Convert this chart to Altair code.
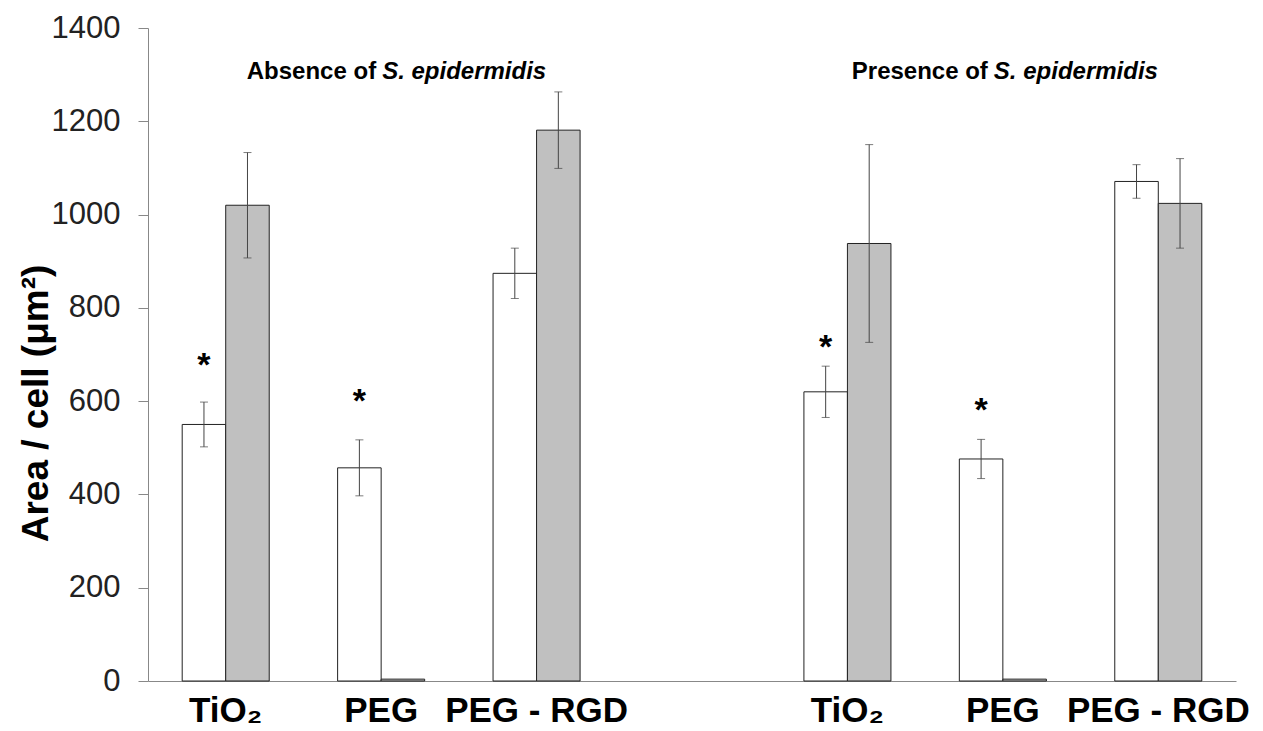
import altair as alt
import pandas as pd

# ---- data ----
slots = ["TiO₂", "PEG", "PEG - RGD", " ", "TiO₂ ", "PEG ", "PEG - RGD "]
bar_slots = ["TiO₂", "PEG", "PEG - RGD", "TiO₂ ", "PEG ", "PEG - RGD "]
white_vals = [550, 457, 874, 620, 476, 1071]
white_err = [48, 60, 54, 55, 42, 36]
grey_vals = [1020, 4, 1181, 938, 4, 1024]
grey_err = [113, 0, 82, 212, 0, 96]
star_slots = ["TiO₂", "PEG", "TiO₂ ", "PEG "]
star_vals = [694, 617, 733, 598]
y_ticks = [0, 200, 400, 600, 800, 1000, 1200, 1400]

rows = []
for s, v, e in zip(bar_slots, white_vals, white_err):
    rows.append({"slot": s, "series": "A", "value": v, "lo": v - e, "hi": v + e, "err": e})
for s, v, e in zip(bar_slots, grey_vals, grey_err):
    rows.append({"slot": s, "series": "B", "value": v, "lo": v - e, "hi": v + e, "err": e})
df = pd.DataFrame(rows)
err_df = df[df["err"] > 0]
stars = pd.DataFrame({"slot": star_slots, "series": ["A"] * 4, "y": star_vals, "t": ["*"] * 4})

FONT = "Liberation Sans"

xscale = alt.Scale(domain=slots, paddingInner=0.44, paddingOuter=0.22)
yscale = alt.Scale(domain=[0, 1400])
offs = alt.Scale(domain=["A", "B"])

X = alt.X("slot:N", scale=xscale, sort=slots,
          axis=alt.Axis(title=None, labelAngle=0, labelFont=FONT, labelFontSize=35,
                        labelFontWeight="bold", labelColor="#000", ticks=False,
                        labelPadding=12, domainColor="#888", labelLimit=400,
                        labelOverlap=False, labelBound=False))
Y = alt.Y("value:Q", scale=yscale,
          axis=alt.Axis(title="Area / cell (μm²)", values=y_ticks, format="d",
                        grid=False, labelFont=FONT, labelFontSize=31, labelColor="#222",
                        labelPadding=18, tickSize=10, tickColor="#888", domainColor="#888",
                        titleFont=FONT, titleFontSize=37, titleFontWeight="bold",
                        titleColor="#000", titleAngle=-90, titleX=-101, titleY=375,
                        titleAlign="center", titleBaseline="alphabetic"))
XO = alt.XOffset("series:N", scale=offs)

bars = alt.Chart(df).mark_bar(stroke="#222", strokeWidth=1).encode(
    x=X, xOffset=XO, y=Y,
    fill=alt.Fill("series:N", scale=alt.Scale(domain=["A", "B"], range=["#ffffff", "#c0c0c0"]),
                  legend=None),
)

rules = alt.Chart(err_df).mark_rule(color="#444", strokeWidth=1).encode(
    x=alt.X("slot:N", scale=xscale, sort=slots), xOffset=XO,
    y=alt.Y("lo:Q", scale=yscale), y2="hi:Q")
caps_hi = alt.Chart(err_df).mark_tick(color="#444", thickness=1, size=8, orient="horizontal").encode(
    x=alt.X("slot:N", scale=xscale, sort=slots), xOffset=XO, y=alt.Y("hi:Q", scale=yscale))
caps_lo = alt.Chart(err_df).mark_tick(color="#444", thickness=1, size=8, orient="horizontal").encode(
    x=alt.X("slot:N", scale=xscale, sort=slots), xOffset=XO, y=alt.Y("lo:Q", scale=yscale))

star_txt = alt.Chart(stars).mark_text(font=FONT, fontSize=34, fontWeight="bold",
                                      baseline="alphabetic", dy=19, color="#000").encode(
    x=alt.X("slot:N", scale=xscale, sort=slots), xOffset=XO,
    y=alt.Y("y:Q", scale=yscale), text="t:N")

def label(slot, txt, align, dx, italic):
    d = pd.DataFrame({"slot": [slot], "y": [1305], "t": [txt]})
    return alt.Chart(d).mark_text(font=FONT, fontSize=24, fontWeight="bold",
                                  fontStyle="italic" if italic else "normal",
                                  align=align, baseline="middle", dx=dx, color="#000").encode(
        x=alt.X("slot:N", scale=xscale, sort=slots), y=alt.Y("y:Q", scale=yscale), text="t:N")

anns = (label("PEG", "Absence of", "right", -5, False)
        + label("PEG", "S. epidermidis", "left", 1, True)
        + label("PEG ", "Presence of", "right", -15, False)
        + label("PEG ", "S. epidermidis", "left", -9, True))

chart = alt.layer(bars, rules, caps_hi, caps_lo, star_txt, anns).properties(
    width=1088, height=653,
    padding={"left": 140, "top": 20, "right": 16, "bottom": 50},
    autosize=alt.AutoSizeParams(type="none"),
    background="white",
).configure_view(stroke=None)

chart.save("out.html", embed_options={"renderer": "svg", "actions": False})
